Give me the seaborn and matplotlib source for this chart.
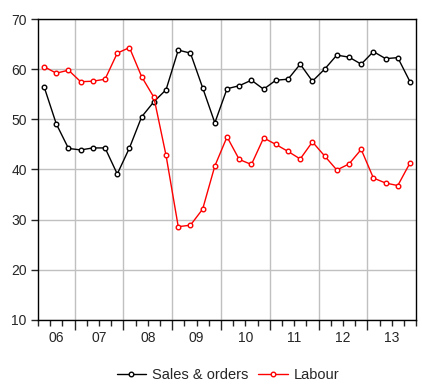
import pandas as pd
import numpy as np
import seaborn as sns
import matplotlib.pyplot as plt

# quarterly survey balances, 2006Q2 .. 2013Q4
quarters = pd.period_range('2006Q2', '2013Q4', freq='Q').astype(str)
sales_orders = [56.5, 49.1, 44.2, 43.9, 44.3, 44.3, 39.1, 44.3, 50.5, 53.5,
                55.9, 63.8, 63.2, 56.3, 49.3, 56.1, 56.7, 57.8, 56.0, 57.8,
                58.0, 61.0, 57.6, 60.0, 62.8, 62.4, 61.0, 63.5, 62.1, 62.3, 57.5]
labour = [60.5, 59.2, 59.8, 57.5, 57.6, 58.0, 63.2, 64.3, 58.5, 54.4,
          42.8, 28.6, 28.9, 32.1, 40.7, 46.5, 42.0, 41.0, 46.3, 45.0,
          43.6, 42.1, 45.5, 42.7, 39.9, 41.1, 44.0, 38.3, 37.3, 36.8, 41.3]
year_labels = ['06', '07', '08', '09', '10', '11', '12', '13']

df = pd.DataFrame({'quarter': quarters, 'Sales & orders': sales_orders, 'Labour': labour})
df['t'] = np.arange(len(df))
long_df = df.melt(id_vars=['quarter', 't'], var_name='series', value_name='value')

sns.set_style('white')
plt.rcParams['font.family'] = ['Liberation Sans', 'DejaVu Sans']

fig = plt.figure(figsize=(4.22, 3.84), dpi=100)
ax = fig.add_axes([0.090, 0.1667, 0.896, 0.7838])

colors = {'Sales & orders': 'black', 'Labour': 'red'}
for name, col in colors.items():
    sub = long_df[long_df['series'] == name]
    sns.lineplot(data=sub, x='t', y='value', ax=ax, color=col, lw=1.0,
                 marker='o', markersize=3.3, markerfacecolor='white',
                 markeredgecolor=col, markeredgewidth=1.0, label=name, legend=False)

n = len(df)
ax.set_xlim(-0.5, n - 0.5)
ax.set_ylim(10, 70)
ax.set_yticks(range(10, 71, 10))

# year boundaries (2007Q1 is index 3)
bounds = [2.5 + 4 * k for k in range(7)]
ax.set_xticks(bounds)
ax.set_xticklabels([])
ax.set_xticks(np.arange(-0.5, n, 1.0), minor=True)
centers = [(-0.5 + 2.5) / 2] + [b + 2 for b in bounds]
for c, lab in zip(centers, year_labels):
    ax.text(c, -0.035, lab, transform=ax.get_xaxis_transform(), ha='center', va='top', fontsize=10)

ax.grid(True, which='major', color='#c0c0c0', lw=1.0)
ax.tick_params(axis='y', which='major', direction='out', length=5, width=1, labelsize=10, left=True, pad=3)
ax.tick_params(axis='x', which='major', direction='out', length=7, width=1, bottom=True)
ax.tick_params(axis='x', which='minor', direction='out', length=4, width=1, bottom=True)
for s in ax.spines.values():
    s.set_color('black')
    s.set_linewidth(1.0)
ax.set_xlabel('')
ax.set_ylabel('')

handles, labels = ax.get_legend_handles_labels()
fig.legend(handles, labels, loc='center', bbox_to_anchor=(0.54, 1 - 375 / 384), ncol=2,
           frameon=False, fontsize=10.5, handlelength=2.0, columnspacing=0.7, handletextpad=0.4)

fig.savefig('out.png', dpi=100)
